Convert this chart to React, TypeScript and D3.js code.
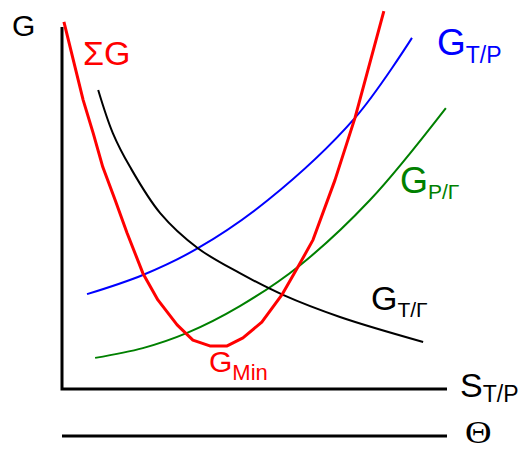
import React from 'react'
import { scaleLinear, line, curveCatmullRom, curveLinear } from 'd3'

// curve values, axes in arbitrary units 0..100
const blueX = [6.5, 21.0, 35.3, 53.5, 76.1, 90.9]
const blueY = [26.2, 31.5, 38.9, 52.2, 74.9, 97.0]

const greenX = [8.6, 21.0, 32.5, 46.2, 61.6, 80.0, 99.7]
const greenY = [8.6, 11.3, 15.5, 22.9, 34.0, 52.2, 77.6]

const blackX = [9.4, 13.2, 17.7, 25.5, 35.3, 46.2, 57.4, 72.2, 93.8]
const blackY = [82.6, 70.7, 61.3, 48.6, 38.9, 32.0, 26.0, 19.9, 13.0]

const redX = [0.5, 5.5, 8.1, 10.6, 13.8, 16.9, 21.0, 24.9, 29.9, 34.0, 38.4, 42.9, 47.0, 51.9, 57.1, 61.6, 65.2, 70.9, 76.1, 83.6]
const redY = [101.4, 79.8, 70.7, 61.3, 52.2, 43.1, 32.0, 24.6, 17.7, 13.5, 11.9, 11.9, 14.1, 18.5, 26.0, 34.3, 41.2, 57.7, 74.9, 104.4]

const width = 521, height = 450
const left = 62, right = 447, top = 27, bottom = 389
const thetaY = 436

const font = 'Liberation Sans, Arial, sans-serif'

function App() {
    const x = scaleLinear().domain([0, 100]).range([left, right])
    const y = scaleLinear().domain([0, 100]).range([bottom, top])

    const mk = (xs: number[], ys: number[]) => xs.map((v, i) => [x(v), y(ys[i])] as [number, number])

    const smooth = line().curve(curveCatmullRom.alpha(0.5))
    const straight = line().curve(curveLinear)

    const curves = [
        { xs: blueX, ys: blueY, color: '#0000ff' },
        { xs: greenX, ys: greenY, color: '#008000' },
        { xs: blackX, ys: blackY, color: '#000000' },
    ]

    return (
        <svg width={width} height={height} style={{ position: 'absolute', left: 0, top: 0, background: '#fff' }}>
            {/* axes */}
            <path d={`M${left},${top}V${bottom}H${right}`} fill='none' stroke='#000' strokeWidth={3} />
            <line x1={left} x2={right} y1={thetaY} y2={thetaY} stroke='#000' strokeWidth={3} />

            {curves.map((c, i) => (
                <path key={i} d={smooth(mk(c.xs, c.ys)) || ''} fill='none' stroke={c.color} strokeWidth={2} />
            ))}
            <path d={straight(mk(redX, redY)) || ''} fill='none' stroke='#ff0000' strokeWidth={3} strokeLinejoin='round' />

            <g fontFamily={font}>
                <text x={12} y={36} fontSize={30} fill='#000'>G</text>
                <text x={83} y={65} fontSize={34} fill='#ff0000'>ΣG</text>
                <text x={437} y={55} fill='#0000ff' fontSize={37}>G<tspan fontSize={23} dy={8}>T/P</tspan></text>
                <text x={400} y={193} fill='#008000' fontSize={36}>G<tspan fontSize={21} dy={6}>P/Γ</tspan></text>
                <text x={371} y={310} fill='#000' fontSize={34}>G<tspan fontSize={21} dy={7}>T/Γ</tspan></text>
                <text x={460} y={397} fill='#000' fontSize={34}>S<tspan fontSize={23} dy={5}>T/P</tspan></text>
                <text x={209} y={372} fill='#ff0000' fontSize={30}>G<tspan fontSize={22} dy={8}>Min</tspan></text>
            </g>
            <g transform='translate(465,443) scale(1.15,1)'>
                <text x={0} y={0} fontFamily='Liberation Serif, Times New Roman, serif' fontSize={32} fill='#000'>Θ</text>
            </g>
        </svg>
    )
}

export default App
